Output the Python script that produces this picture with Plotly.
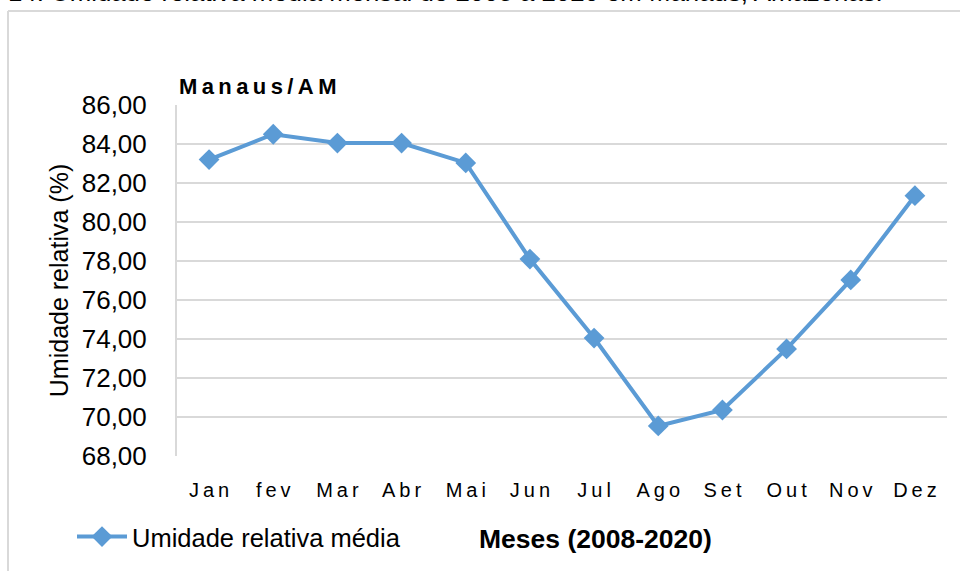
import plotly.graph_objects as go

months = ["Jan", "fev", "Mar", "Abr", "Mai", "Jun", "Jul", "Ago", "Set", "Out", "Nov", "Dez"]
umidade = [83.2, 84.5, 84.05, 84.05, 83.03, 78.1, 74.05, 69.54, 70.36, 73.49, 77.03, 81.35]
y_ticks = [68, 70, 72, 74, 76, 78, 80, 82, 84, 86]
y_ticklabels = [f"{v:.2f}".replace(".", ",") for v in y_ticks]
tick_text = ["\u2009".join(m) for m in months]

W, H = 960, 571
L, R, T, B = 177, 947, 105, 456
pw, ph = R - L, B - T

def px(x):
    return (x - L) / pw

def py(y):
    return (B - y) / ph

blue = "#5b9bd5"
fig = go.Figure()
fig.add_trace(go.Scatter(
    x=months, y=umidade, mode="lines+markers",
    name="Umidade relativa média",
    line=dict(color=blue, width=4),
    marker=dict(symbol="diamond", size=16, color=blue),
))

fig.update_layout(
    width=W, height=H,
    margin=dict(l=L, r=W - R, t=T, b=H - B, autoexpand=False),
    paper_bgcolor="white", plot_bgcolor="white",
    font=dict(family="Liberation Sans", color="black"),
    showlegend=True,
    legend=dict(orientation="h", x=px(72), y=py(537), xanchor="left", yanchor="middle",
                font=dict(size=25.5),
                bgcolor="rgba(0,0,0,0)", itemwidth=50),
    xaxis=dict(type="category", range=[-0.5, 11.5], tickmode="array", tickvals=months, ticktext=tick_text,
               tickfont=dict(size=20), showgrid=False, showline=False, automargin=False,
               ticks="", ticklabelstandoff=20, fixedrange=True),
    yaxis=dict(range=[68, 86], tickmode="array", tickvals=y_ticks, ticktext=y_ticklabels,
               tickfont=dict(size=26), showgrid=True, gridcolor="#d9d9d9", gridwidth=2,
               zeroline=False, showline=True, linecolor="#d9d9d9", linewidth=2,
               ticks="", ticklabelstandoff=23, automargin=False, fixedrange=True,
               title=dict(text="Umidade relativa (%)", font=dict(size=25), standoff=6)),
    shapes=[
        dict(type="line", xref="paper", yref="paper", x0=px(8), x1=px(965), y0=py(11), y1=py(11),
             line=dict(color="#d9d9d9", width=2)),
        dict(type="line", xref="paper", yref="paper", x0=px(8), x1=px(8), y0=py(11), y1=py(580),
             line=dict(color="#d9d9d9", width=2)),
    ],
    annotations=[
        dict(text="<b>M\u2009a\u2009n\u2009a\u2009u\u2009s\u2009/\u2009A\u2009M</b>", xref="paper", yref="paper",
             x=px(177), y=py(87), xanchor="left", yanchor="middle", showarrow=False,
             font=dict(size=22)),
        dict(text="<b>Meses (2008-2020)</b>", xref="paper", yref="paper",
             x=px(595), y=py(539), xanchor="center", yanchor="middle", showarrow=False,
             font=dict(size=26.5)),
        dict(text="14: Umidade relativa média mensal de 2008 a 2020 em Manaus, Amazonas.", xref="paper", yref="paper",
             x=px(6), y=py(8), xanchor="left", yanchor="bottom", showarrow=False,
             font=dict(size=25.8)),
    ],
)

fig.write_html("out.html", config={"displayModeBar": False},
               post_script="document.body.style.margin='0';")
